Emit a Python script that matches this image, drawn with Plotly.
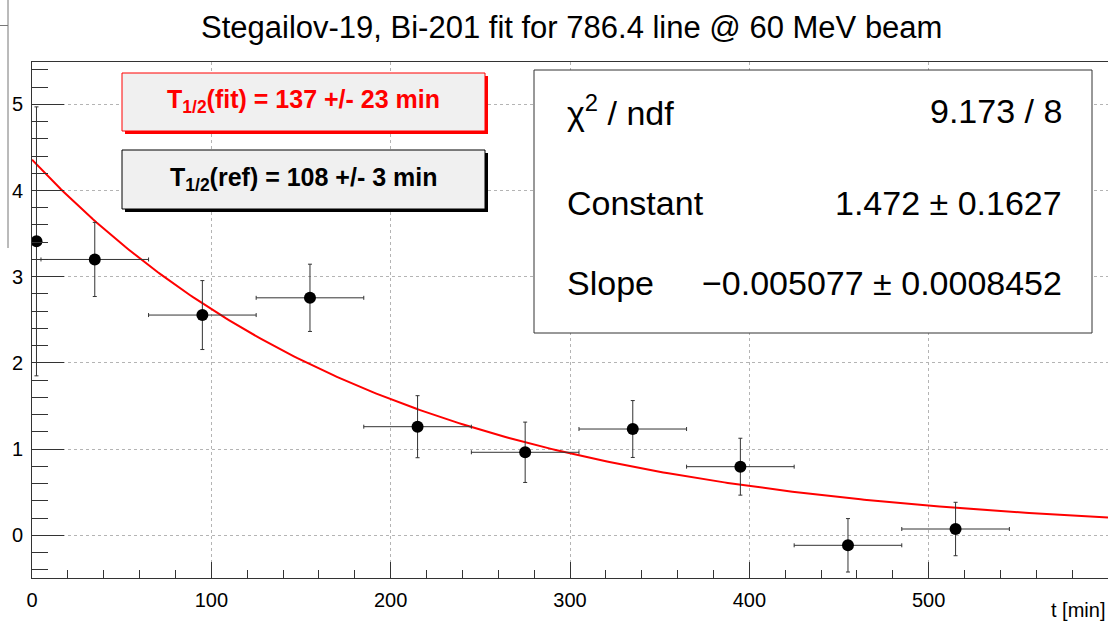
import numpy as np
import plotly.graph_objects as go

# ---------------- data ----------------
t_min = [2.5, 35, 95, 155, 215, 275, 335, 395, 455, 515]
t_err = [2.5, 30, 30, 30, 30, 30, 30, 30, 30, 30]
rate = [3.41, 3.20, 2.555, 2.755, 1.26, 0.963, 1.233, 0.796, -0.116, 0.073]
rate_err = [1.56, 0.43, 0.40, 0.39, 0.36, 0.35, 0.33, 0.33, 0.31, 0.31]

fit_constant = 1.472
fit_slope = -0.005077
fit_xmin, fit_xmax = 0, 600

title_text = "Stegailov-19, Bi-201 fit for 786.4 line @ 60 MeV beam"
xaxis_title = "t [min]"
legend_fit = "T<sub>1/2</sub>(fit) = 137 +/- 23 min"
legend_ref = "T<sub>1/2</sub>(ref) = 108 +/- 3 min"
stat_rows = [("\u03c7<sup>2</sup> / ndf", "9.173 / 8"),
             ("Constant", "1.472 \u00b1 0.1627"),
             ("Slope", "\u22120.005077 \u00b1 0.0008452")]

x_ticks = [0, 100, 200, 300, 400, 500]
y_ticks = [0, 1, 2, 3, 4, 5]

# ---------------- layout geometry (pixels) ----------------
W, H = 1108, 624
L, R, T, B = 32, 0, 62, 46
PW, PH = W - L - R, H - T - B
FONT = "Liberation Sans, Arial, Helvetica, sans-serif"


def px(xp):
    return (xp - L) / PW


def py(yp):
    return (H - B - yp) / PH


fit_x = np.linspace(fit_xmin, fit_xmax, 301)
fit_y = np.exp(fit_constant + fit_slope * fit_x)

fig = go.Figure()
fig.add_trace(go.Scatter(x=fit_x, y=fit_y, mode="lines",
                         line=dict(color="#ff0000", width=2), hoverinfo="skip"))
fig.add_trace(go.Scatter(
    x=t_min, y=rate, mode="markers",
    marker=dict(color="black", size=12, symbol="circle"),
    error_x=dict(type="data", array=t_err, color="#333333", thickness=1, width=2),
    error_y=dict(type="data", array=rate_err, color="#333333", thickness=1, width=2),
))

shapes = []
# clipped box at far left
shapes.append(dict(type="line", xref="paper", yref="paper",
                   x0=px(8), x1=px(8), y0=py(0), y1=py(248),
                   line=dict(color="#777777", width=1)))
shapes.append(dict(type="line", xref="paper", yref="paper",
                   x0=px(0), x1=px(8), y0=py(25.5), y1=py(25.5),
                   line=dict(color="#777777", width=1)))


def pave(x0, y0, x1, y1, border, fill, shadow=3):
    out = []
    if shadow:
        out.append(dict(type="rect", xref="paper", yref="paper",
                        x0=px(x0 + shadow), x1=px(x1 + shadow),
                        y0=py(y0 + shadow), y1=py(y1 + shadow),
                        fillcolor=border, line=dict(width=0), layer="above"))
    out.append(dict(type="rect", xref="paper", yref="paper",
                    x0=px(x0), x1=px(x1), y0=py(y0), y1=py(y1),
                    fillcolor=fill, line=dict(color=border, width=1), layer="above"))
    return out


shapes += pave(122, 73, 485, 131, "#ff0000", "#f0f0f0")
shapes += pave(122, 150, 485, 209, "#000000", "#f0f0f0")
shapes += pave(534, 70, 1092, 333, "#333333", "#ffffff", shadow=0)

annotations = []
annotations.append(dict(text=title_text, x=px(571), y=py(27), xref="paper",
                        yref="paper", xanchor="center", yanchor="middle",
                        showarrow=False, font=dict(family=FONT, size=31, color="black")))
annotations.append(dict(text=xaxis_title, x=px(1107), y=py(610), xref="paper", yref="paper",
                        xanchor="right", yanchor="middle", showarrow=False,
                        font=dict(family=FONT, size=20, color="black")))
annotations.append(dict(text="<b>" + legend_fit + "</b>", x=px(303), y=py(101),
                        xref="paper", yref="paper", xanchor="center", yanchor="middle",
                        showarrow=False, font=dict(family=FONT, size=25, color="#ff0000")))
annotations.append(dict(text="<b>" + legend_ref + "</b>", x=px(303), y=py(179),
                        xref="paper", yref="paper", xanchor="center", yanchor="middle",
                        showarrow=False, font=dict(family=FONT, size=25, color="black")))
row_y = [111, 203, 283]
for (lab, val), yy in zip(stat_rows, row_y):
    annotations.append(dict(text=lab, x=px(565), y=py(yy), xref="paper", yref="paper",
                            xanchor="left", yanchor="middle", showarrow=False,
                            font=dict(family=FONT, size=34, color="black")))
    annotations.append(dict(text=val, x=px(1064), y=py(yy), xref="paper", yref="paper",
                            xanchor="right", yanchor="middle", showarrow=False,
                            font=dict(family=FONT, size=34, color="black")))

y0_px = 535.3
unit_y = 86.2
ymin = -(H - B - y0_px) / unit_y
ymax = ymin + PH / unit_y

fig.update_layout(
    width=W, height=H, margin=dict(l=L, r=R, t=T, b=B, pad=0),
    paper_bgcolor="white", plot_bgcolor="white", showlegend=False,
    font=dict(family=FONT, size=20, color="black"),
    shapes=shapes, annotations=annotations,
    xaxis=dict(range=[0, 600], tickvals=x_ticks, ticks="inside", ticklen=16,
               tickcolor="#333333", tickwidth=1, showline=True, linecolor="#333333",
               linewidth=1, mirror=True, showgrid=True, gridcolor="#b4b4b4",
               griddash="dot", gridwidth=1, zeroline=False, automargin=False,
               tickfont=dict(family=FONT, size=20, color="black"),
               ticklabelstandoff=4,
               minor=dict(ticks="inside", ticklen=8, dtick=20, tick0=0,
                          tickcolor="#333333", showgrid=False)),
    yaxis=dict(range=[ymin, ymax], tickvals=y_ticks, ticks="inside", ticklen=32,
               tickcolor="#333333", tickwidth=1, showline=True, linecolor="#333333",
               linewidth=1, mirror=False, showgrid=True, gridcolor="#b4b4b4",
               griddash="dot", gridwidth=1, zeroline=False, automargin=False,
               tickfont=dict(family=FONT, size=20, color="black"),
               ticklabelstandoff=4,
               minor=dict(ticks="inside", ticklen=16, dtick=0.2, tick0=0,
                          tickcolor="#333333", showgrid=False)),
)

fig.write_html("out.html",
               config={"displayModeBar": False},
               post_script="document.body.style.margin='0';"
                           "document.body.style.overflow='hidden';")
